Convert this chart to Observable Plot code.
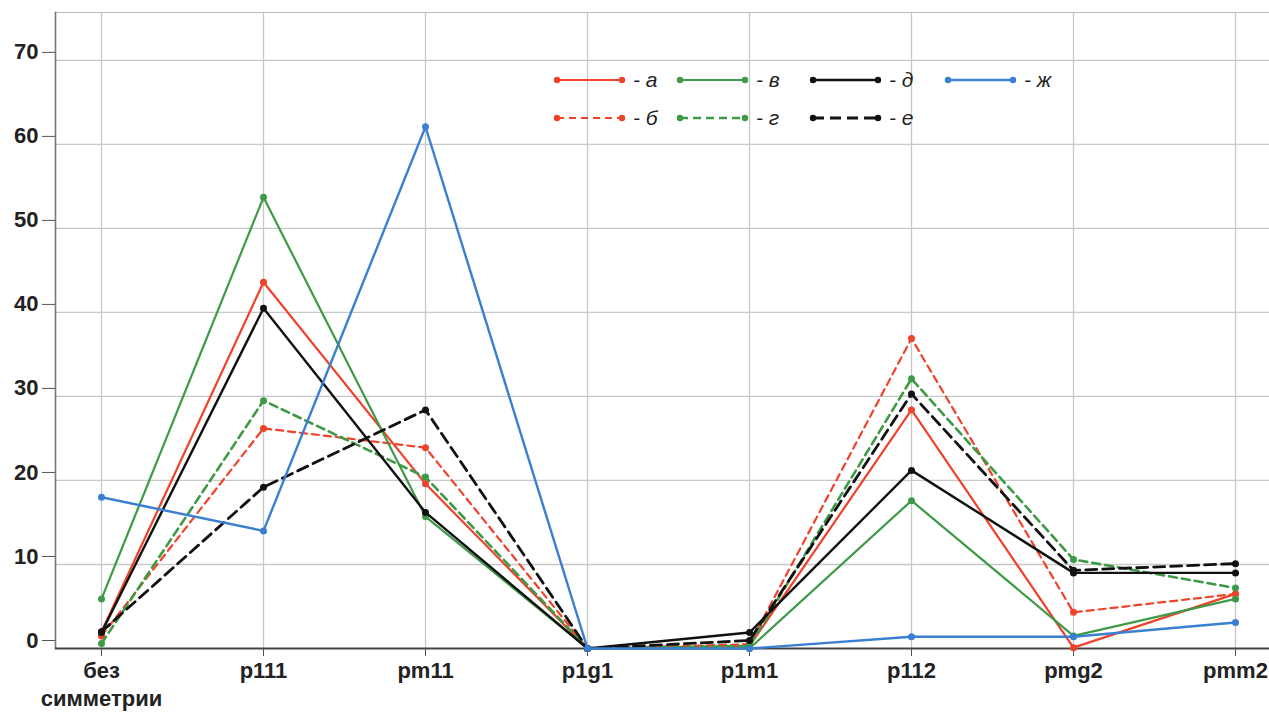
<!DOCTYPE html>
<html>
<head>
<meta charset="utf-8">
<script src="https://cdn.jsdelivr.net/npm/d3@7"></script>
<script src="https://cdn.jsdelivr.net/npm/@observablehq/plot@0.6"></script>
<style>
  html, body { margin: 0; padding: 0; background: #fff; }
  #wrap { position: relative; width: 1269px; height: 713px; font-family: "Liberation Sans", Arial, sans-serif; }
  #legend { position: absolute; left: 0; top: 0; pointer-events: none; }
</style>
</head>
<body>
<div id="wrap"></div>
<script>
const categories = ["без симметрии", "p111", "pm11", "p1g1", "p1m1", "p112", "pmg2", "pmm2"];
const seriesNames = ["а", "б", "в", "г", "д", "е", "ж"];
const seriesColors = ["#f0422a", "#f0422a", "#3e9a46", "#3e9a46", "#111111", "#111111", "#3a7fd2"];
const seriesDash = ["none", "7,5", "none", "8,5", "none", "11,6", "none"];
const seriesWidth = [2.2, 2.2, 2.2, 2.6, 2.4, 2.8, 2.4];
const yTicks = [0, 10, 20, 30, 40, 50, 60, 70];

const vA = [2.0, 43.6, 19.6, 0, 0.3, 28.4, 0.1, 6.5];
const vB = [1.5, 26.2, 23.9, 0, 0.5, 36.9, 4.3, 6.5];
const vV = [5.9, 53.7, 15.7, 0, 0.0, 17.6, 1.5, 5.9];
const vG = [0.6, 29.5, 20.4, 0, 0.3, 32.1, 10.6, 7.2];
const vD = [1.9, 40.5, 16.2, 0, 1.9, 21.2, 9.0, 9.0];
const vE = [2.0, 19.2, 28.4, 0, 0.95, 30.3, 9.3, 10.1];
const vZh = [18.0, 14.0, 62.1, 0, 0.0, 1.4, 1.4, 3.1];
const seriesValues = [vA, vB, vV, vG, vD, vE, vZh];

const series = seriesNames.map((name, i) => ({
  name, color: seriesColors[i], dash: seriesDash[i], width: seriesWidth[i],
  data: categories.map((c, j) => ({cat: c, value: seriesValues[i][j], series: name}))
}));

const marks = [
  Plot.gridY(yTicks.filter(d => d > 0), {stroke: "#c8c8c8", strokeOpacity: 1, strokeWidth: 1.3}),
  Plot.gridX(categories, {stroke: "#c8c8c8", strokeOpacity: 1, strokeWidth: 1.3}),
  Plot.frame({anchor: "top", stroke: "#bbbbbb", strokeWidth: 1.2}),
  Plot.frame({anchor: "left", stroke: "#777", strokeWidth: 1.6}),
  Plot.axisY(yTicks, {tickSize: 13, tickPadding: 4, fontSize: 22, fontWeight: "bold", dy: -8, stroke: "#555", fill: "#222", tickFormat: d => String(d), label: null}),
  Plot.axisX(categories, {tickSize: 8, tickPadding: 1, fontSize: 22, fontWeight: "bold", fill: "#222", stroke: "#555", tickFormat: d => d.replace(" ", "\n"), lineHeight: 1.3, label: null}),
  Plot.ruleY([0], {stroke: "#444", strokeWidth: 2})
];
for (const s of series) {
  marks.push(Plot.line(s.data, {x: "cat", y: "value", stroke: s.color, strokeWidth: s.width, strokeDasharray: s.dash === "none" ? null : s.dash}));
  marks.push(Plot.dot(s.data, {x: "cat", y: "value", fill: s.color, r: 3.5}));
}

const chart = Plot.plot({
  width: 1269,
  height: 713,
  marginLeft: 55,
  marginRight: 0,
  marginTop: 12,
  marginBottom: 65,
  style: {fontFamily: "'Liberation Sans', Arial, sans-serif", background: "#fff"},
  x: {type: "point", domain: categories, range: [98, 1238], padding: 0, axis: null},
  y: {domain: [0, 75.7], axis: null},
  marks
});
document.getElementById("wrap").appendChild(chart);

// Legend overlay
const legendLayout = [
  {col: 0, row: 0}, {col: 0, row: 1}, {col: 1, row: 0}, {col: 1, row: 1},
  {col: 2, row: 0}, {col: 2, row: 1}, {col: 3, row: 0}
];
const colX = [557, 680, 813, 948];
const rowY = [80, 118];
const lsvg = d3.select("#wrap").append("svg").attr("id", "legend").attr("width", 1269).attr("height", 713);
series.forEach((s, i) => {
  const x0 = colX[legendLayout[i].col], y0 = rowY[legendLayout[i].row];
  const g = lsvg.append("g").attr("transform", `translate(${x0},${y0})`);
  g.append("line").attr("x1", 0).attr("x2", 65).attr("y1", 0).attr("y2", 0)
    .attr("stroke", s.color).attr("stroke-width", s.width)
    .attr("stroke-dasharray", s.dash === "none" ? null : s.dash);
  g.append("circle").attr("cx", 0).attr("cy", 0).attr("r", 3.2).attr("fill", s.color);
  g.append("circle").attr("cx", 65).attr("cy", 0).attr("r", 3.2).attr("fill", s.color);
  g.append("text").attr("x", 76).attr("y", 7).attr("font-size", 21).attr("font-style", "italic")
    .attr("fill", "#222").attr("font-family", "'Liberation Sans', Arial, sans-serif").text("- " + s.name);
});
</script>
</body>
</html>
